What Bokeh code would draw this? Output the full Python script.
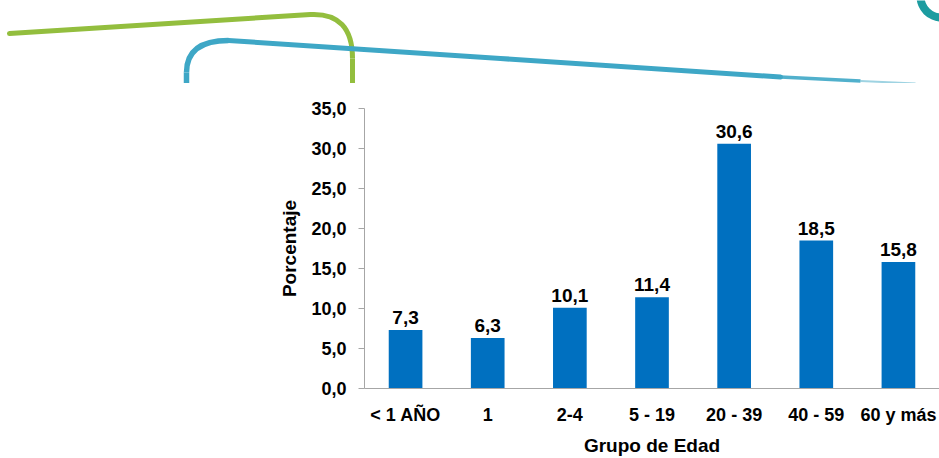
from bokeh.core.properties import value
from bokeh.embed import file_html
from bokeh.models import (ColumnDataSource, CustomJSTickFormatter, FactorRange,
                          FixedTicker, LabelSet, Range1d)
from bokeh.plotting import figure
from bokeh.resources import INLINE

# Distribución porcentual por grupo de edad
grupos = ["< 1 AÑO", "1", "2-4", "5 - 19", "20 - 39", "40 - 59", "60 y más"]
porcentaje = [7.3, 6.3, 10.1, 11.4, 30.6, 18.5, 15.8]
y_ticks = [0, 5, 10, 15, 20, 25, 30, 35]

W = 939
TOP_H = 83
CHART_H = 458 - TOP_H

FONT = "'Liberation Sans', Arial, sans-serif"
BAR = "#0070C0"
AXIS = "#A6A6A6"
GREEN = "#93BE3E"
BLUE = "#3EA7C6"
TEAL = "#1C9CA0"

# ---- decorative header band ----
deco = figure(width=W, height=TOP_H, x_range=Range1d(0, W), y_range=Range1d(TOP_H, 0),
              output_backend="svg", toolbar_location=None, min_border=0,
              x_axis_location=None, y_axis_location=None)
deco.grid.visible = False
deco.outline_line_color = None

# green stroke with rounded corner
deco.line([9, 310], [33, 14], line_color=GREEN, line_width=5, line_cap="round")
deco.quadratic(x0=[310], y0=[14], x1=[352], y1=[58], cx=[352], cy=[12],
               line_color=GREEN, line_width=5)
deco.line([352, 352], [58, 95], line_color=GREEN, line_width=5)

# blue stroke, tapering to the right
deco.line([186, 186], [95, 72], line_color=BLUE, line_width=5.5)
deco.quadratic(x0=[186], y0=[72], x1=[228], y1=[40], cx=[186], cy=[40],
               line_color=BLUE, line_width=5.5)
deco.line([228, 500, 780], [40, 58, 76.5], line_color=BLUE, line_width=5, line_cap="round")
deco.line([780, 860], [76.5, 80.5], line_color=BLUE, line_width=3.5, line_alpha=0.9)
deco.line([860, 915], [80.5, 83], line_color=BLUE, line_width=2, line_alpha=0.5)

# teal ring in the corner
deco.annulus(x=[941], y=[-4], inner_radius=17, outer_radius=25,
             fill_color=TEAL, line_color=None)

# ---- bar chart ----
src = ColumnDataSource(dict(
    grupo=grupos,
    pct=porcentaje,
    etiqueta=[f"{v:.1f}".replace(".", ",") for v in porcentaje],
))

p = figure(width=W, height=CHART_H, x_range=FactorRange(*grupos),
           y_range=Range1d(0, 35), output_backend="svg", toolbar_location=None,
           min_border_left=364, min_border_right=0, min_border_top=25,
           min_border_bottom=70)
p.grid.visible = False
p.outline_line_color = None

p.vbar(x="grupo", top="pct", width=0.41, source=src, fill_color=BAR, line_color=None)

p.add_layout(LabelSet(x="grupo", y="pct", text="etiqueta", source=src,
                      y_offset=6, text_align="center", text_baseline="bottom",
                      text_font=value(FONT), text_font_style="bold",
                      text_font_size="19px", text_color="#000000"))

# axes
p.yaxis.ticker = FixedTicker(ticks=y_ticks)
p.yaxis.formatter = CustomJSTickFormatter(code="return tick.toFixed(1).replace('.', ',');")
p.yaxis.minor_tick_line_color = None
p.yaxis.major_tick_line_color = AXIS
p.yaxis.major_tick_out = 6
p.yaxis.major_tick_in = 0
p.yaxis.major_label_standoff = 12
p.yaxis.axis_label = "Porcentaje"
p.yaxis.axis_label_standoff = 8

p.xaxis.major_tick_line_color = None
p.xaxis.minor_tick_line_color = None
p.xaxis.major_label_standoff = 10
p.xaxis.axis_label = "Grupo de Edad"
p.xaxis.axis_label_standoff = 7

for ax in (p.xaxis, p.yaxis):
    ax.axis_line_color = AXIS
    ax.major_label_text_font = FONT
    ax.major_label_text_font_style = "bold"
    ax.major_label_text_font_size = "18px"
    ax.major_label_text_color = "#000000"
    ax.axis_label_text_font = FONT
    ax.axis_label_text_font_style = "bold"
    ax.axis_label_text_font_size = "19px"
    ax.axis_label_text_color = "#000000"

open("out.html", "w").write(file_html([deco, p], INLINE))
